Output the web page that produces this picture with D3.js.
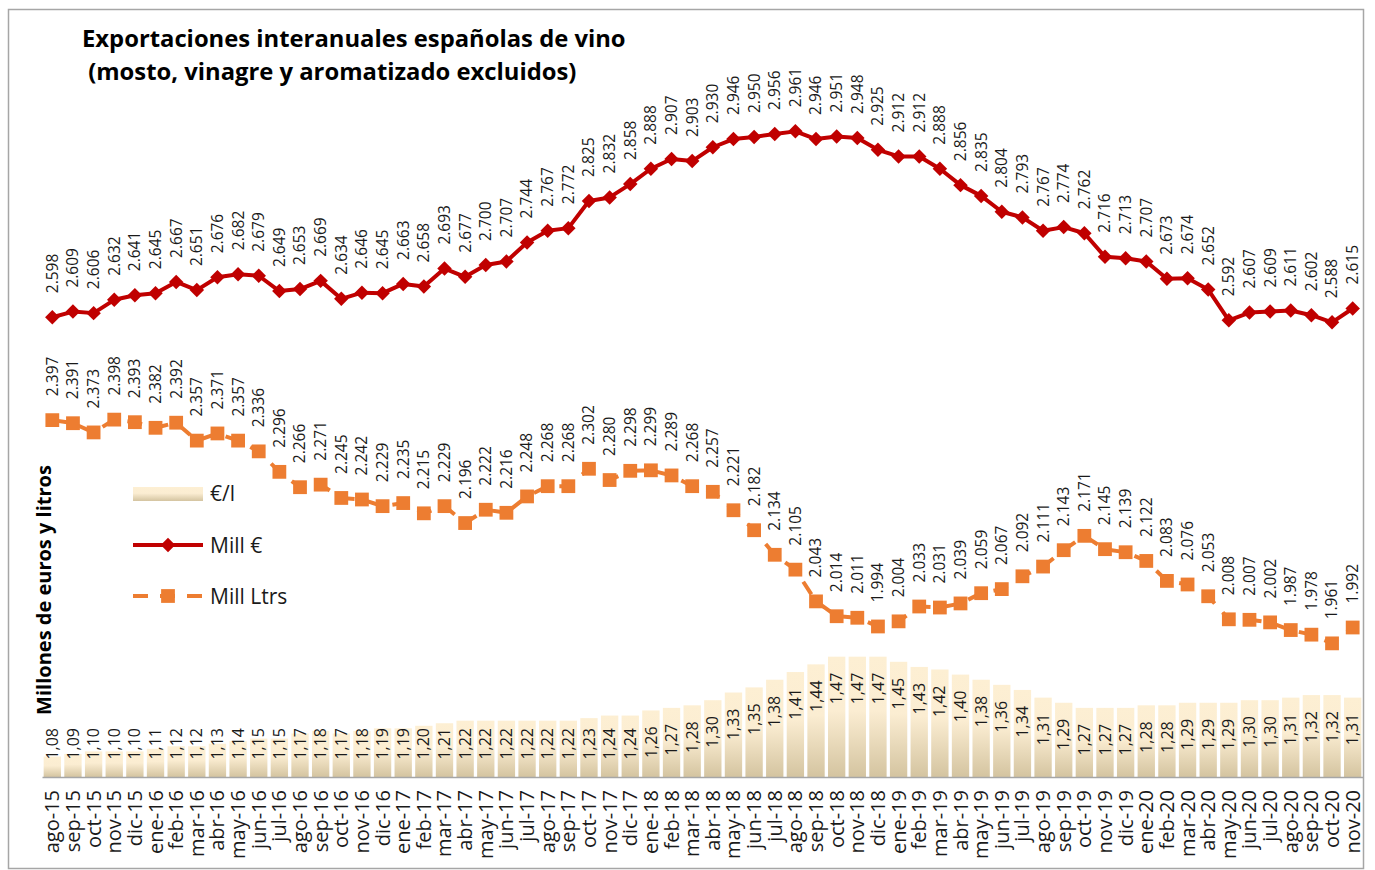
<!DOCTYPE html>
<html>
<head>
<meta charset="utf-8">
<script src="https://cdn.jsdelivr.net/npm/d3@7"></script>
<style>
  body { margin: 0; background: #fff; }
  svg { display: block; font-family: "Open Sans", "Noto Sans", sans-serif; }
</style>
</head>
<body>
<div id="chart"></div>
<script>
// months shown on the x axis
var meses = ['ago-15','sep-15','oct-15','nov-15','dic-15',
  'ene-16','feb-16','mar-16','abr-16','may-16','jun-16','jul-16','ago-16','sep-16','oct-16','nov-16','dic-16',
  'ene-17','feb-17','mar-17','abr-17','may-17','jun-17','jul-17','ago-17','sep-17','oct-17','nov-17','dic-17',
  'ene-18','feb-18','mar-18','abr-18','may-18','jun-18','jul-18','ago-18','sep-18','oct-18','nov-18','dic-18',
  'ene-19','feb-19','mar-19','abr-19','may-19','jun-19','jul-19','ago-19','sep-19','oct-19','nov-19','dic-19',
  'ene-20','feb-20','mar-20','abr-20','may-20','jun-20','jul-20','ago-20','sep-20','oct-20','nov-20'];

// millones de euros (interanual)
var millEuros = [2598,2609,2606,2632,2641,
  2645,2667,2651,2676,2682,2679,2649,2653,2669,2634,2646,2645,
  2663,2658,2693,2677,2700,2707,2744,2767,2772,2825,2832,2858,
  2888,2907,2903,2930,2946,2950,2956,2961,2946,2951,2948,2925,
  2912,2912,2888,2856,2835,2804,2793,2767,2774,2762,2716,2713,
  2707,2673,2674,2652,2592,2607,2609,2611,2602,2588,2615];

// millones de litros (interanual)
var millLitros = [2397,2391,2373,2398,2393,
  2382,2392,2357,2371,2357,2336,2296,2266,2271,2245,2242,2229,
  2235,2215,2229,2196,2222,2216,2248,2268,2268,2302,2280,2298,
  2299,2289,2268,2257,2221,2182,2134,2105,2043,2014,2011,1994,
  2004,2033,2031,2039,2059,2067,2092,2111,2143,2171,2145,2139,
  2122,2083,2076,2053,2008,2007,2002,1987,1978,1961,1992];

// precio medio €/l
var eurosLitro = [1.08,1.09,1.10,1.10,1.10,
  1.11,1.12,1.12,1.13,1.14,1.15,1.15,1.17,1.18,1.17,1.18,1.19,
  1.19,1.20,1.21,1.22,1.22,1.22,1.22,1.22,1.22,1.23,1.24,1.24,
  1.26,1.27,1.28,1.30,1.33,1.35,1.38,1.41,1.44,1.47,1.47,1.47,
  1.45,1.43,1.42,1.40,1.38,1.36,1.34,1.31,1.29,1.27,1.27,1.27,
  1.28,1.28,1.29,1.29,1.29,1.30,1.30,1.31,1.32,1.32,1.31];

var tituloLineas = ['Exportaciones interanuales españolas de vino',
                    ' (mosto, vinagre y aromatizado excluidos)'];
var ejeTitulo = 'Millones de euros y litros';
var leyenda = ['€/l', 'Mill €', 'Mill Ltrs'];

var W = 1375, H = 870,
    plot = {left: 42, right: 1363, top: 9, bottom: 777},
    rojo = '#c00000', naranja = '#ed7d31', texto = '#1a1a1a';

var es = d3.formatLocale({decimal: ',', thousands: '.', grouping: [3], currency: ['', '€']}),
    fmtMill = es.format(',d'),
    fmtPrecio = es.format('.2f');

var data = meses.map(function(m, i) {
  return {mes: m, eur: millEuros[i], ltr: millLitros[i], precio: eurosLitro[i]};
});

var svg = d3.select('#chart').append('svg')
  .attr('width', W).attr('height', H);

var defs = svg.append('defs');
var grad = defs.append('linearGradient')
  .attr('id', 'barGrad').attr('x1', 0).attr('y1', 0).attr('x2', 0).attr('y2', 1);
grad.append('stop').attr('offset', '0%').attr('stop-color', '#fdefd3');
grad.append('stop').attr('offset', '45%').attr('stop-color', '#fbedd2');
grad.append('stop').attr('offset', '100%').attr('stop-color', '#d4c4a0');

// chart frame
svg.append('rect')
  .attr('x', 8.5).attr('y', 9.5).attr('width', 1355).attr('height', 859)
  .attr('fill', 'none').attr('stroke', '#a6a6a6').attr('stroke-width', 1.5);

var x = d3.scaleBand().domain(meses)
  .range([plot.left, plot.right]).paddingInner(0.16).paddingOuter(0.08);

// both lines share the primary axis, bars use the secondary one
var y = d3.scaleLinear().domain([1700, 3200]).range([plot.bottom, plot.top]);
var y2 = d3.scaleLinear().domain([1.0, 4.0]).range([plot.bottom, plot.top]);

var cx = function(d) { return x(d.mes) + x.bandwidth() / 2; };

// €/l bars
var barras = svg.append('g').attr('class', 'barras');
barras.selectAll('rect').data(data).enter().append('rect')
  .attr('x', function(d) { return x(d.mes); })
  .attr('y', function(d) { return y2(d.precio); })
  .attr('width', x.bandwidth())
  .attr('height', function(d) { return y2(1.0) - y2(d.precio); })
  .attr('fill', 'url(#barGrad)');

barras.selectAll('text').data(data).enter().append('text')
  .attr('transform', function(d) {
    var top = Math.min(y2(d.precio) + 16, 728);
    return 'translate(' + cx(d) + ',' + top + ') rotate(-90)';
  })
  .attr('text-anchor', 'end')
  .attr('dy', '0.35em')
  .attr('font-size', 16)
  .attr('fill', texto)
  .text(function(d) { return fmtPrecio(d.precio); });

// x axis
var xAxis = svg.append('g')
  .attr('transform', 'translate(0,' + plot.bottom + ')')
  .call(d3.axisBottom(x).tickSize(0).tickPadding(0));
xAxis.select('.domain').attr('stroke', '#a6a6a6').attr('stroke-width', 1.5);
xAxis.selectAll('text')
  .attr('transform', 'rotate(-90)')
  .attr('text-anchor', 'end')
  .attr('x', -13).attr('y', 0).attr('dy', '0.35em')
  .attr('font-size', 20)
  .attr('font-family', '"Open Sans", sans-serif')
  .attr('fill', texto);

// lines
var lineaEur = d3.line().x(cx).y(function(d) { return y(d.eur); });
var lineaLtr = d3.line().x(cx).y(function(d) { return y(d.ltr); });

svg.append('path').datum(data)
  .attr('d', lineaLtr)
  .attr('fill', 'none').attr('stroke', naranja)
  .attr('stroke-width', 4).attr('stroke-dasharray', '15,12');

svg.append('path').datum(data)
  .attr('d', lineaEur)
  .attr('fill', 'none').attr('stroke', rojo)
  .attr('stroke-width', 4).attr('stroke-linejoin', 'round');

var cuadrado = d3.symbol().type(d3.symbolSquare).size(190);
var rombo = d3.symbol().type(d3.symbolSquare).size(105);

svg.append('g').selectAll('path').data(data).enter().append('path')
  .attr('d', cuadrado)
  .attr('transform', function(d) { return 'translate(' + cx(d) + ',' + y(d.ltr) + ')'; })
  .attr('fill', naranja);

svg.append('g').selectAll('path').data(data).enter().append('path')
  .attr('d', rombo)
  .attr('transform', function(d) { return 'translate(' + cx(d) + ',' + y(d.eur) + ') rotate(45)'; })
  .attr('fill', rojo);

// value labels above the markers
var etiquetas = function(campo) {
  svg.append('g').selectAll('text').data(data).enter().append('text')
    .attr('transform', function(d) {
      return 'translate(' + cx(d) + ',' + (y(d[campo]) - 24) + ') rotate(-90)';
    })
    .attr('dy', '0.35em')
    .attr('font-size', 15.5)
    .attr('fill', texto)
    .text(function(d) { return fmtMill(d[campo]); });
};
etiquetas('eur');
etiquetas('ltr');

// title
svg.append('g').selectAll('text').data(tituloLineas).enter().append('text')
  .attr('x', 82)
  .attr('y', function(d, i) { return 47 + i * 33; })
  .attr('font-size', 23.8).attr('font-weight', 'bold')
  .attr('fill', '#000')
  .style('white-space', 'pre')
  .text(function(d) { return d; });

// y axis title
svg.append('text')
  .attr('transform', 'translate(44,590) rotate(-90)')
  .attr('text-anchor', 'middle').attr('dy', '0.35em')
  .attr('font-size', 20).attr('font-weight', 'bold')
  .attr('fill', '#000')
  .text(ejeTitulo);

// legend
var ley = svg.append('g').attr('transform', 'translate(133,0)');
ley.append('rect')
  .attr('x', 0).attr('y', 487).attr('width', 70).attr('height', 14)
  .attr('fill', 'url(#barGrad)');
ley.append('line')
  .attr('x1', 0).attr('x2', 70).attr('y1', 545).attr('y2', 545)
  .attr('stroke', rojo).attr('stroke-width', 4);
ley.append('path').attr('d', rombo)
  .attr('transform', 'translate(35,545) rotate(45)').attr('fill', rojo);
ley.append('line')
  .attr('x1', 0).attr('x2', 70).attr('y1', 596).attr('y2', 596)
  .attr('stroke', naranja).attr('stroke-width', 4).attr('stroke-dasharray', '15,12');
ley.append('path').attr('d', cuadrado)
  .attr('transform', 'translate(35,596)').attr('fill', naranja);

ley.selectAll('text.ley').data(leyenda).enter().append('text')
  .attr('class', 'ley')
  .attr('x', 77)
  .attr('y', function(d, i) { return 494 + i * 51.5; })
  .attr('dy', '0.35em')
  .attr('font-size', 21)
  .attr('fill', texto)
  .text(function(d) { return d; });
</script>
</body>
</html>
